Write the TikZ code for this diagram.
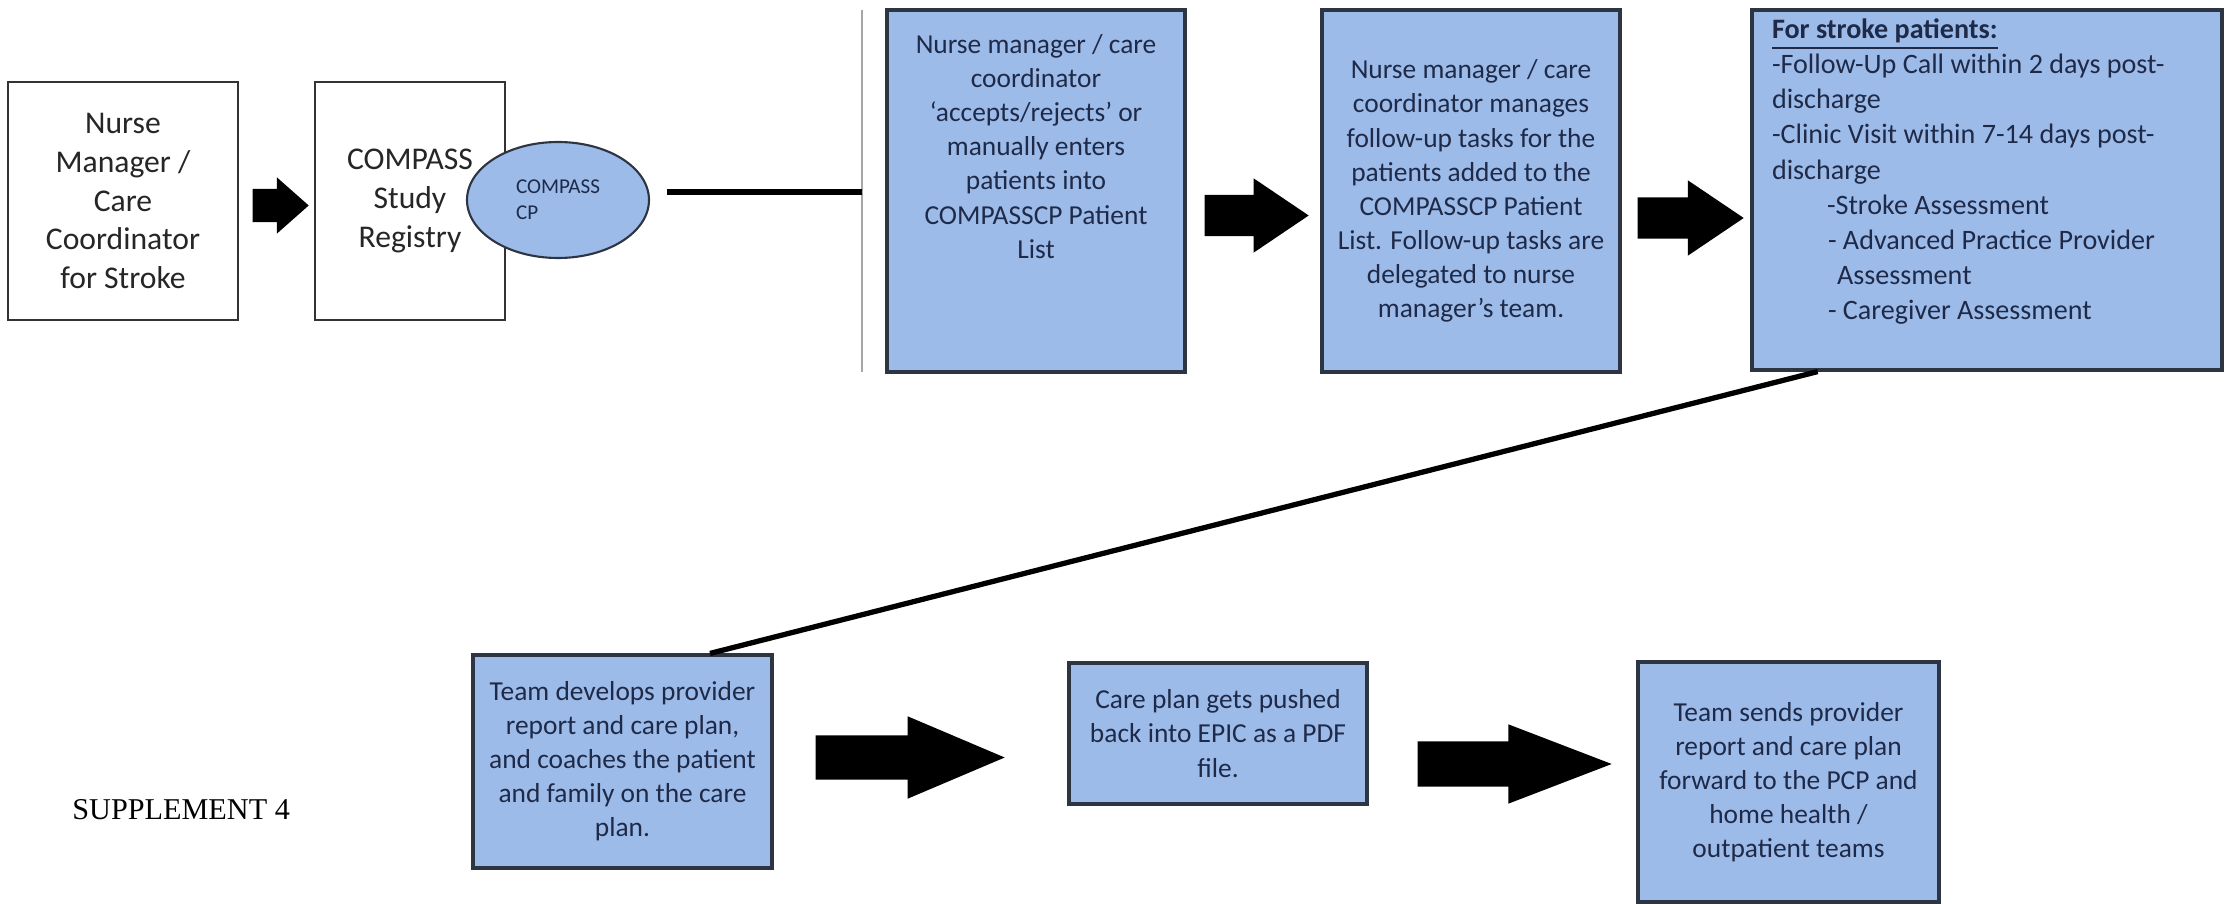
\documentclass[tikz,border=0pt]{standalone}
\usepackage{fontspec}
\setmainfont{Carlito}
\newfontfamily\supfont{Liberation Serif}
\usetikzlibrary{shapes.geometric, shapes.arrows}
\definecolor{boxblue}{RGB}{157, 187, 233}
\definecolor{navy}{RGB}{30, 42, 72}
\definecolor{edgeline}{RGB}{45, 52, 66}

\begin{document}
\begin{tikzpicture}[
    whitebox/.style={draw=black!80, line width=0.8pt, fill=white, text=black!85, align=center, inner sep=0pt, font=\fontsize{9}{11}\selectfont},
    bluebox/.style={draw=edgeline, line width=0.9pt, fill=boxblue, text=navy, align=center, inner sep=0pt, font=\fontsize{7.8}{9.7}\selectfont},
    blockarrow/.style={single arrow, fill=black, inner xsep=0pt, anchor=tail},
    link/.style={black, line width=1.5pt}
]
\useasboundingbox (0,0) rectangle (22.37,9.03);

% Nodes (top row)
\node[whitebox, minimum width=2.30cm, minimum height=2.38cm] (nurse) at (1.23,7.02) {Nurse\\Manager /\\Care\\Coordinator\\for Stroke};
\node[blockarrow, minimum height=0.56cm, inner ysep=0.16cm, single arrow head extend=0.115cm, single arrow tip angle=83] (a1) at (2.52,6.975) {};
\node[whitebox, minimum width=1.90cm, minimum height=2.38cm] (registry) at (4.10,7.02) {COMPASS\\Study\\Registry};
\node[ellipse, draw=edgeline, line width=0.6pt, fill=boxblue, text=navy, minimum width=1.82cm, minimum height=1.16cm, inner sep=0pt, align=left, font=\fontsize{6}{7.4}\selectfont] (cp) at (5.58,7.03) {COMPASS\\CP};

\coordinate (bartop) at (8.62,8.93);
\coordinate (barbot) at (8.62,5.31);
\coordinate (linkstart) at (6.67,7.11);

\node[bluebox, minimum width=2.98cm, minimum height=3.62cm] (accept) at (10.36,7.12) {\parbox[c][3.62cm][t]{2.9cm}{\centering\vspace*{7pt}Nurse manager / care\\coordinator\\‘accepts/rejects’ or\\manually enters\\patients into\\COMPASSCP Patient\\List}};
\node[blockarrow, minimum height=1.04cm, inner ysep=0.20cm, single arrow head extend=0.165cm, single arrow tip angle=68] (a2) at (12.04,6.875) {};
\node[bluebox, minimum width=2.98cm, minimum height=3.62cm] (tasks) at (14.71,7.12) {Nurse manager / care\\coordinator manages\\follow-up tasks for the\\patients added to the\\COMPASSCP Patient\\List. Follow-up tasks are\\delegated to nurse\\manager’s team.};
\node[blockarrow, minimum height=1.06cm, inner ysep=0.20cm, single arrow head extend=0.17cm, single arrow tip angle=68] (a3) at (16.37,6.85) {};
\node[bluebox, minimum width=4.70cm, minimum height=3.60cm, font=\fontsize{8}{10}\selectfont] (stroke) at (19.87,7.13) {\parbox[c][3.6cm][t]{4.3cm}{\raggedright\vspace*{2.5pt}\underline{\textbf{For stroke patients:}}\\-Follow-Up Call within 2 days post-\\discharge\\-Clinic Visit within 7-14 days post-\\discharge\\\hspace*{0.55cm}-Stroke Assessment\\\hspace*{0.56cm}- Advanced Practice Provider\\\hspace*{0.65cm}Assessment\\\hspace*{0.56cm}- Caregiver Assessment}};

% Nodes (bottom row)
\node[bluebox, minimum width=2.99cm, minimum height=2.13cm] (team) at (6.225,1.415) {Team develops provider\\report and care plan,\\and coaches the patient\\and family on the care\\plan.};
\node[blockarrow, minimum height=1.89cm, inner ysep=0.215cm, single arrow head extend=0.19cm, single arrow tip angle=46] (a4) at (8.15,1.455) {};
\node[bluebox, minimum width=2.98cm, minimum height=1.41cm] (epic) at (12.18,1.695) {Care plan gets pushed\\back into EPIC as a PDF\\file.};
\node[blockarrow, minimum height=1.94cm, inner ysep=0.22cm, single arrow head extend=0.17cm, single arrow tip angle=42] (a5) at (14.17,1.39) {};
\node[bluebox, minimum width=3.01cm, minimum height=2.40cm] (sends) at (17.885,1.21) {Team sends provider\\report and care plan\\forward to the PCP and\\home health /\\outpatient teams};

\node[anchor=west, font=\supfont\fontsize{8.6}{10}\selectfont] (supp) at (0.60,0.93) {SUPPLEMENT 4};

% Edges
\draw[gray!70, line width=0.8pt] (bartop) -- (barbot);
\draw[link] (linkstart) -- (linkstart -| bartop); % CP to the patient list
\draw[link] (stroke.227.7) -- (team.51.1); % down to the second row
\end{tikzpicture}
\end{document}
